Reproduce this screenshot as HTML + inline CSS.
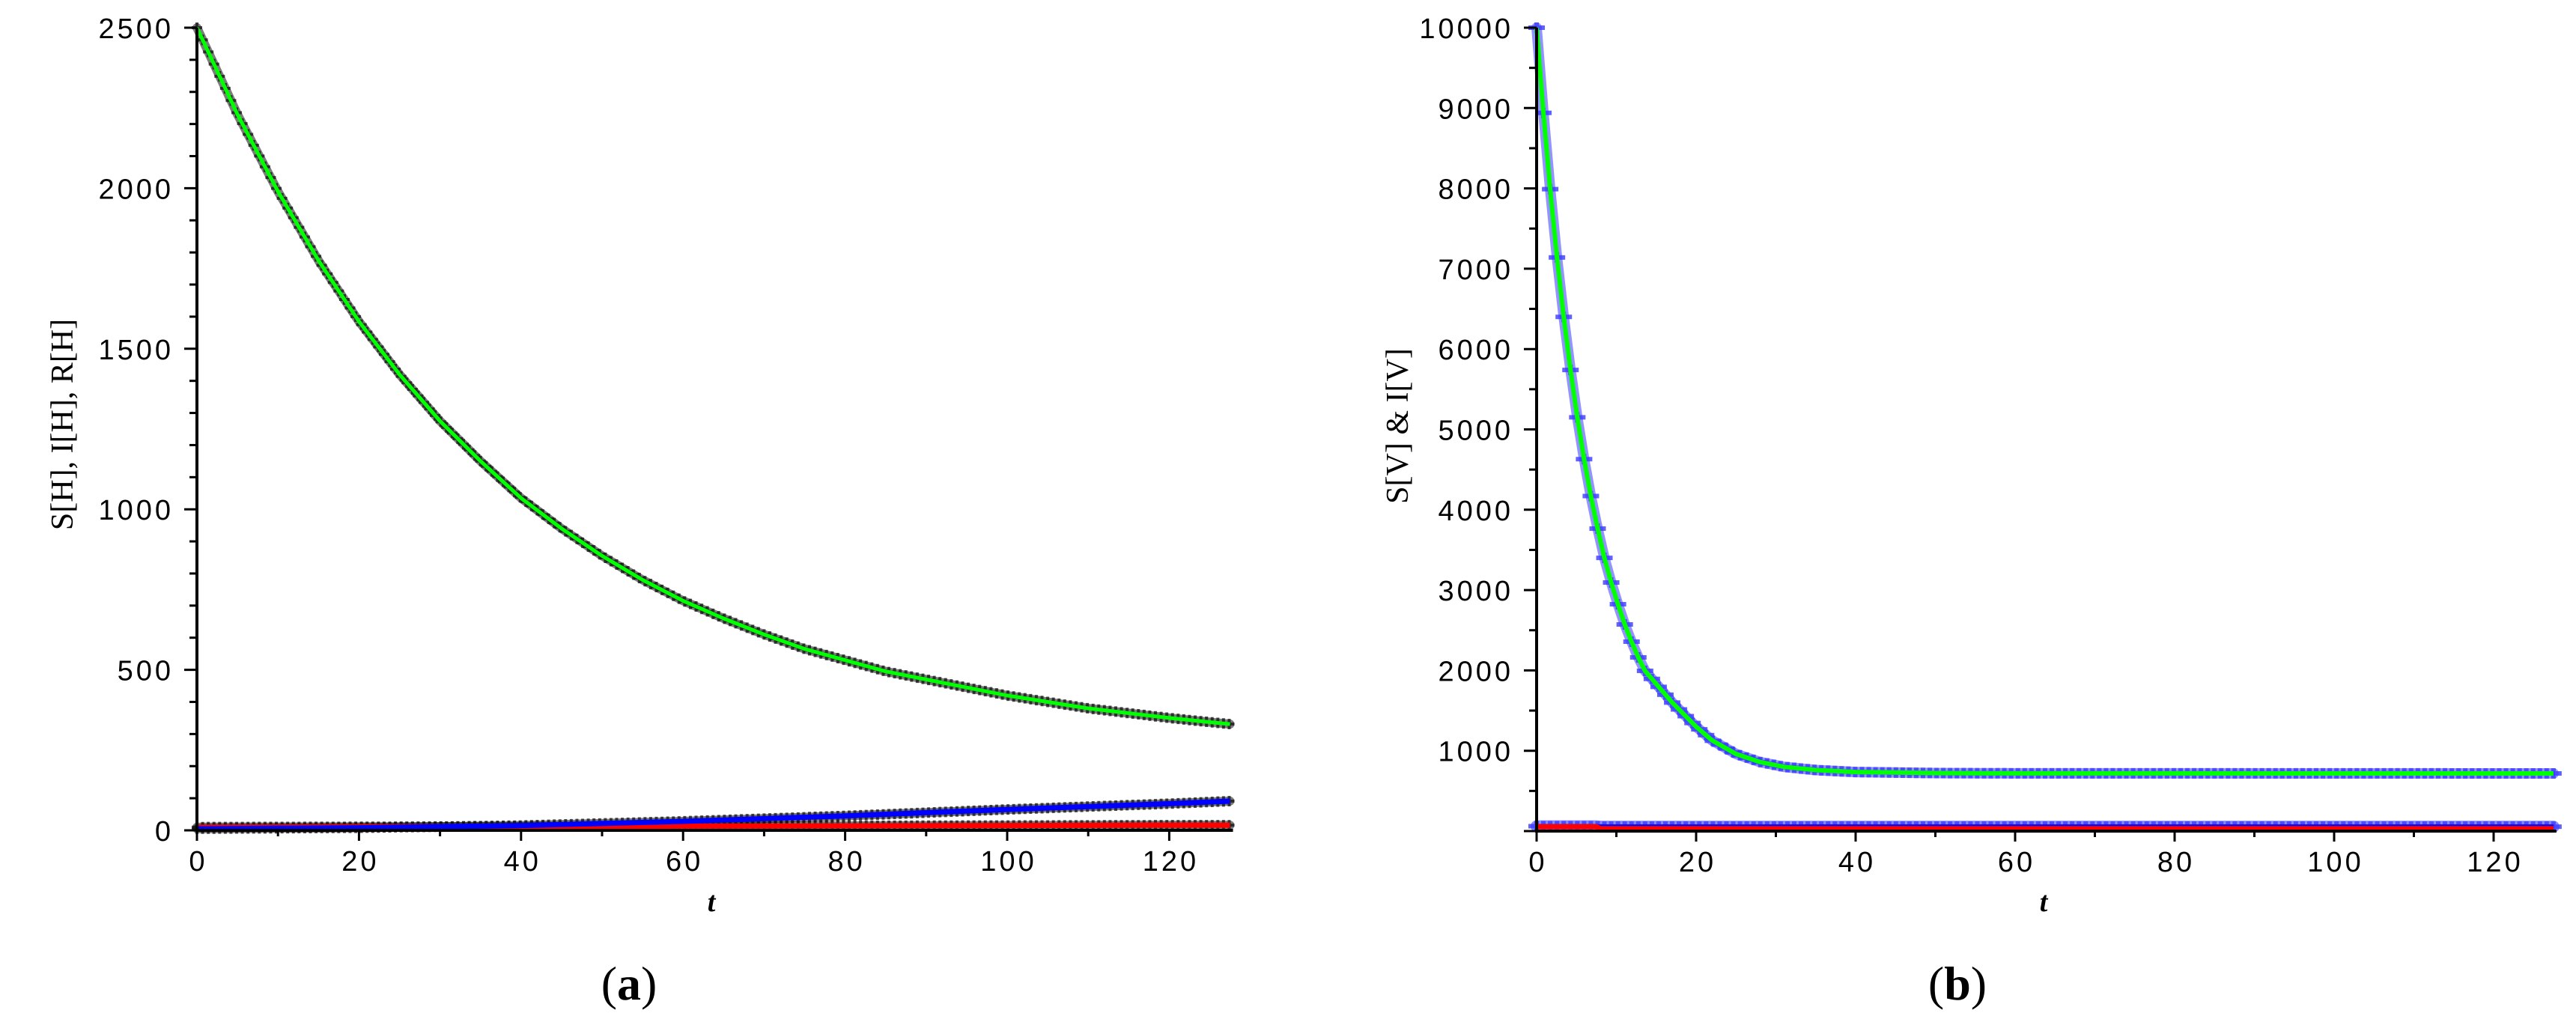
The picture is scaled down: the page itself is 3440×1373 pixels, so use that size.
<!DOCTYPE html>
<html><head><meta charset="utf-8"><style>
html,body{margin:0;padding:0;background:#fff;}
svg{display:block;}
.tl{font-family:"Liberation Sans",sans-serif;font-size:38px;letter-spacing:4px;fill:#000;}
.tt{font-family:"Liberation Serif",serif;font-size:42px;fill:#000;}
</style></head><body>
<svg id="fig" width="3440" height="1373" viewBox="0 0 3440 1373" xmlns="http://www.w3.org/2000/svg">
<text class="tt" transform="translate(97,567) rotate(-90)" text-anchor="middle">S[H], I[H], R[H]</text>
<text class="tt" transform="translate(1880,569) rotate(-90)" text-anchor="middle">S[V] &amp; I[V]</text>
<text x="950" y="1217" text-anchor="middle" style="font-family:'Liberation Serif',serif;font-style:italic;font-weight:bold;font-size:38px">t</text>
<text x="2729" y="1217" text-anchor="middle" style="font-family:'Liberation Serif',serif;font-style:italic;font-weight:bold;font-size:38px">t</text>
<text x="840" y="1335" text-anchor="middle" style="font-family:'Liberation Serif',serif;font-size:64px">(<tspan font-weight="bold">a</tspan>)</text>
<text x="2614" y="1335" text-anchor="middle" style="font-family:'Liberation Serif',serif;font-size:64px">(<tspan font-weight="bold">b</tspan>)</text>
</svg>
<script>
// ---- Panel (a) data ----
const tA = [0,5,10,15,20,25,30,35,40,45,50,55,60,65,70,75,80,85,90,95,100,105,110,115,120,125,127.5];
const sH = [2500,2230,1990,1775,1585,1420,1275,1150,1035,940,855,780,715,660,610,565,530,495,470,445,420,400,380,365,350,337,331];
const tA2 = [0,20,40,60,80,100,120,127.5];
const iH = [5,8,15,28,45,65,83,91];
const rH = [10,11,12,13,14,15,16,16];
const yTicksA = [0,500,1000,1500,2000,2500];
const xTicks = [0,20,40,60,80,100,120];
// ---- Panel (b) data ----
const tB = [0,0.85,1.7,2.55,3.4,4.25,5.1,5.95,6.8,7.65,8.5,9.35,10.2,11.05,11.9,12.75,13.6,15,17,20,22,25,28,31,35,40,50,60,127.5];
const sV = [10000,8940,7990,7140,6400,5740,5150,4630,4170,3765,3400,3094,2824,2572,2358,2162,1994,1830,1600,1300,1130,960,860,800,760,735,722,719,718];
const tB2 = [0,7.5,8,127.5];
const iV = [60,60,55,55];
const rV = [55,55,30,30];
const yTicksB = [1000,2000,3000,4000,5000,6000,7000,8000,9000,10000];

const NS="http://www.w3.org/2000/svg";
const svg=document.getElementById('fig');
function el(tag,attrs,parent){const e=document.createElementNS(NS,tag);for(const k in attrs)e.setAttribute(k,attrs[k]);(parent||svg).appendChild(e);return e;}
function interp(ts,vs,t){for(let i=1;i<ts.length;i++){if(t<=ts[i]){const f=(t-ts[i-1])/(ts[i]-ts[i-1]);return vs[i-1]+f*(vs[i]-vs[i-1]);}}return vs[vs.length-1];}

function panel(cfg){
  const g=el('g',{});
  
  
  const X=t=>cfg.x0+t*cfg.kx, Y=v=>cfg.y0-v*cfg.ky;
  const tEnd=127.5;
  const pathOf=s=>{let d='';s.t.forEach((t,i)=>{d+=(i?'L':'M')+X(t).toFixed(1)+','+Y(s.v[i]).toFixed(1);});return d;};
  // halo bands + markers
  cfg.series.forEach(s=>{
    if(!s.mk) return;
    const h=el('path',{d:pathOf(s),stroke:s.mk,'stroke-width':s.hw,'stroke-opacity':s.ho,fill:'none','stroke-linejoin':'round','stroke-linecap':'round'},g);
    
    
    const mg=el('g',{},g);
    
    
    for(let t=0;t<=tEnd+0.01;t+=cfg.mstep){
      const x=X(t),y=Y(interp(s.t,s.v,t));
      const m=el('path',{d:`M${x-s.mw},${y}H${x+s.mw}M${x},${y-s.mh}V${y+s.mh}`,stroke:s.mk,'stroke-width':s.msw,'stroke-opacity':s.mo,fill:'none'},mg);
      
      
    }
  });
  // lines
  cfg.series.forEach(s=>{
    const p=el('path',{d:pathOf(s),stroke:s.color,'stroke-width':s.w,fill:'none','stroke-linejoin':'round'},g);
    
    
  });
  // axes
  const ya=el('line',{x1:cfg.x0,y1:cfg.y0+2,x2:cfg.x0,y2:Y(cfg.yMax),stroke:'#000','stroke-width':4},g);
  
  
  const xa=el('line',{x1:cfg.x0-2,y1:cfg.y0,x2:X(tEnd)+4,y2:cfg.y0,stroke:'#000','stroke-width':4},g);
  
  
  for(let v=0;v<=cfg.yMax+0.1;v+=cfg.yMinor){
    const major=cfg.yTicks.includes(v)||v===0;
    el('line',{x1:cfg.x0-(major?17:10),x2:cfg.x0,y1:Y(v),y2:Y(v),stroke:'#000','stroke-width':3},g);
  }
  cfg.yTicks.forEach(v=>{
    const tx=el('text',{x:cfg.x0-31,y:Y(v)+14,'text-anchor':'end',class:'tl'},g);
    tx.textContent=v;
    
    
  });
  for(let t=0;t<=120;t+=10){
    const major=t%20===0;
    el('line',{x1:X(t),x2:X(t),y1:cfg.y0,y2:cfg.y0+(major?14:8),stroke:'#000','stroke-width':3},g);
  }
  xTicks.forEach(t=>{
    const tx=el('text',{x:X(t)+2,y:cfg.y0+54,'text-anchor':'middle',class:'tl'},g);
    tx.textContent=t;
    
    
  });
}

panel({name:'plot-a',x0:263,y0:1109,kx:10.82,ky:0.4288,yMax:2500,yMinor:100,yTicks:yTicksA,mstep:0.7,
  series:[
    {name:'r-h',t:tA2,v:rH,color:'#ff0000',w:7,mk:'#111',mw:7,mh:7,msw:4,mo:0.75,hw:12,ho:0.55},
    {name:'i-h',t:tA2,v:iH,color:'#0000ff',w:7,mk:'#111',mw:7,mh:7,msw:4,mo:0.75,hw:12,ho:0.55},
    {name:'s-h',t:tA,v:sH,color:'#00ff00',w:5,mk:'#111',mw:7,mh:7,msw:4,mo:0.75,hw:12,ho:0.55}
  ]});
panel({name:'plot-b',x0:2052,y0:1110,kx:10.65,ky:0.1073,yMax:10000,yMinor:500,yTicks:yTicksB,mstep:0.85,
  series:[
    {name:'i-v',t:tB2,v:iV,color:'#0000ff',w:6,mk:'#3a3aff',mw:11,mh:7,msw:6,mo:0.8,hw:16,ho:0.6},
    {name:'r-v',t:tB2,v:rV,color:'#ff0000',w:7,mk:null},
    {name:'s-v',t:tB,v:sV,color:'#00ff00',w:6,mk:'#3a3aff',mw:11,mh:7,msw:6,mo:0.8,hw:14,ho:0.55}
  ]});
</script>
</body></html>
